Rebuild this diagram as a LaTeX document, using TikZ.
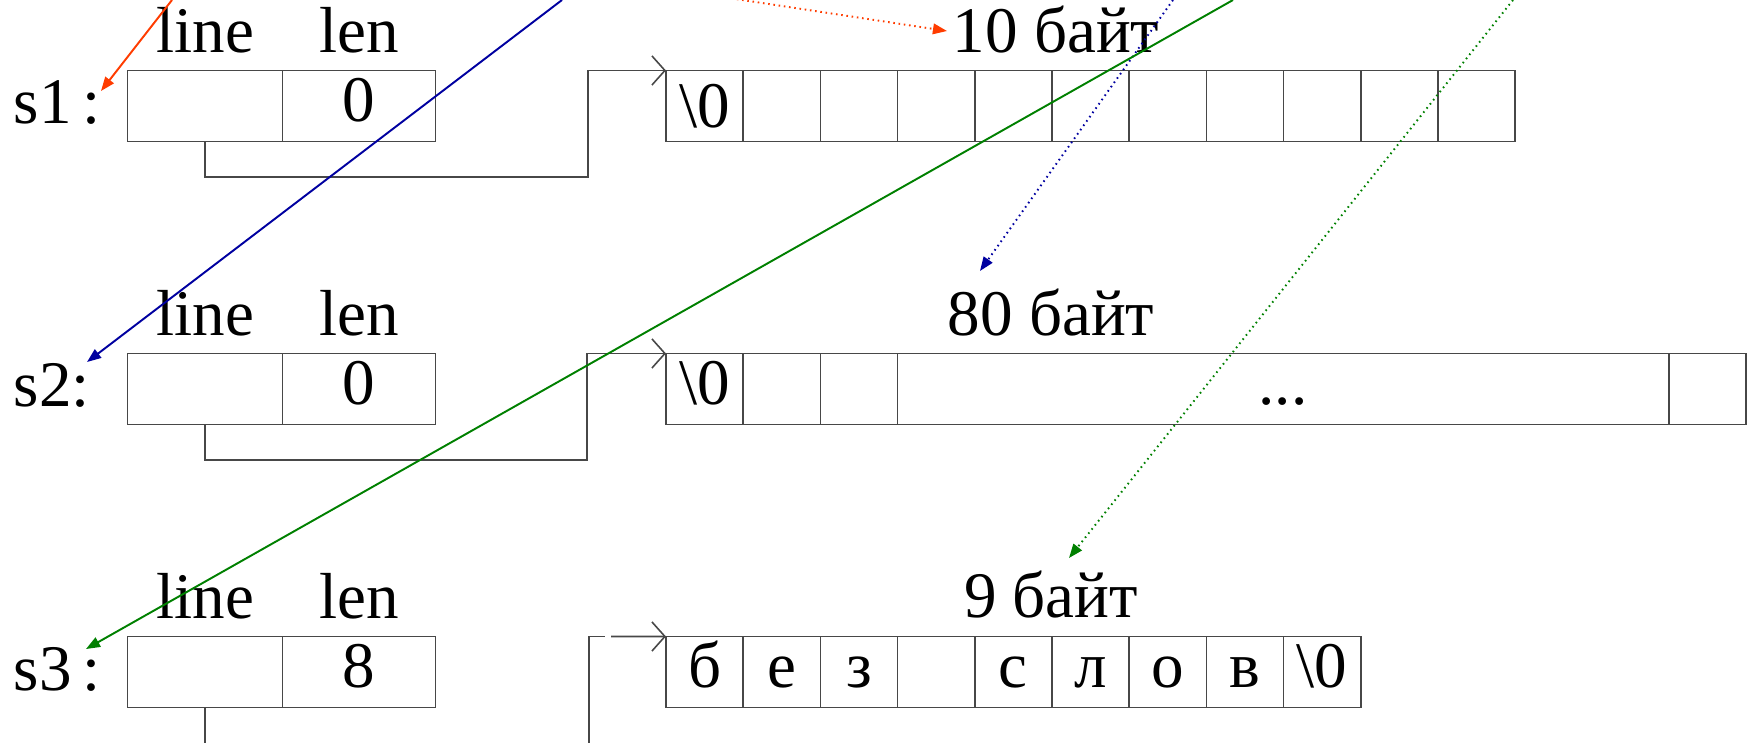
\documentclass[tikz,border=0pt]{standalone}
\usepackage{fontspec}
\setmainfont{Liberation Serif}
\usetikzlibrary{arrows.meta}
\definecolor{redA}{RGB}{255,60,0}
\definecolor{blueA}{RGB}{0,0,160}
\definecolor{greenA}{RGB}{0,128,0}
\colorlet{frame}{black!72}
\tikzset{
  txt/.style={font=\fontsize{18.5}{22}\selectfont, inner sep=0pt},
  cell/.style={draw=frame, line width=0.45pt, minimum height=0.71cm, inner sep=0pt, outer sep=0pt,
    text height=0.39cm, text depth=0.08cm, font=\fontsize{18.5}{22}\selectfont},
  acell/.style={cell, minimum width=0.772cm},
  link/.style={draw=frame, line width=0.45pt},
  linkarrow/.style={link, -{Straight Barb[length=3.7pt,width=8.3pt]}},
  ptr/.style={line width=0.55pt, -{Triangle[length=4pt,width=3pt]}},
  dotptr/.style={ptr, dash pattern=on 0.45pt off 1.05pt},
}
\begin{document}
\begin{tikzpicture}[x=0.01cm, y=-0.01cm]
\useasboundingbox (0,0) rectangle (1754,742);
\clip (0,0) rectangle (1754,742);

% ---------- row 1 ----------
\node[txt, anchor=base] (l1a) at (205.5,52) {line};
\node[txt, anchor=base] (l1b) at (359,52) {len};
\node[txt, anchor=base west] (n1) at (13,123.5) {s1\,:};
\node[cell, minimum width=1.55cm] (s1line) at (205,106) {};
\node[cell, minimum width=1.53cm] (s1len) at (359,106) {0};
\node[txt, anchor=base] (b1) at (1056,52) {10 байт};
\foreach \i in {0,...,10} {
  \node[acell] (r1c\i) at ({704.6+77.2*\i},106) {};
}
\node[txt] at (r1c0) {\textbackslash0};

% ---------- row 2 ----------
\node[txt, anchor=base] (l2a) at (205.5,335) {line};
\node[txt, anchor=base] (l2b) at (359,335) {len};
\node[txt, anchor=base west] (n2) at (13,406.5) {s2:};
\node[cell, minimum width=1.55cm] (s2line) at (205,389) {};
\node[cell, minimum width=1.53cm] (s2len) at (359,389) {0};
\node[txt, anchor=base] (b2) at (1051,335) {80 байт};
\node[acell] (r2c0) at (704.6,389) {\textbackslash0};
\node[acell] (r2c1) at (781.8,389) {};
\node[acell] (r2c2) at (859.0,389) {};
\node[cell, minimum width=7.709cm] (r2c3) at (1283.05,389) {...};
\node[acell] (r2c4) at (1707.1,389) {};

% ---------- row 3 ----------
\node[txt, anchor=base] (l3a) at (205.5,618) {line};
\node[txt, anchor=base] (l3b) at (359,618) {len};
\node[txt, anchor=base west] (n3) at (13,690) {s3\,:};
\node[cell, minimum width=1.55cm] (s3line) at (205,672) {};
\node[cell, minimum width=1.53cm] (s3len) at (359,672) {8};
\node[txt, anchor=base] (b3) at (1051,617) {9 байт};
\foreach \ch [count=\i from 0] in {б,е,з,{},с,л,о,в,\textbackslash0} {
  \node[acell] (r3c\i) at ({704.6+77.2*\i},672) {\ch};
}

% ---------- black pointer links ----------
\coordinate (k1) at (588,177);
\draw[linkarrow] (s1line.south) |- (k1) |- (r1c0.north west);
\coordinate (k2) at (587,460);
\draw[linkarrow] (s2line.south) |- (k2) |- (r2c0.north west);
\coordinate (k3a) at (205,760);
\draw[link] (s3line.south) -- (k3a);
\coordinate (k3b) at (589,760);
\coordinate (k3c) at (605,636.5);
\coordinate (k3d) at (611,636.5);
\draw[link] (k3b) |- (k3c);
\draw[linkarrow] (k3d) -- (r3c0.north west);

% ---------- coloured arrows ----------
\coordinate (rs0) at (172,0);   \coordinate (rs1) at (101,91);
\coordinate (rd0) at (716,-4);  \coordinate (rd1) at (947,31);
\coordinate (bs0) at (562,0);   \coordinate (bs1) at (87,362);
\coordinate (bd0) at (1173,0);  \coordinate (bd1) at (980,271);
\coordinate (gs0) at (1233,0);  \coordinate (gs1) at (86,649);
\coordinate (gd0) at (1513,0);  \coordinate (gd1) at (1069,558);
\draw[ptr, redA] (rs0) -- (rs1);
\draw[dotptr, redA] (rd0) -- (rd1);
\draw[ptr, blueA] (bs0) -- (bs1);
\draw[dotptr, blueA] (bd0) -- (bd1);
\draw[ptr, greenA] (gs0) -- (gs1);
\draw[dotptr, greenA] (gd0) -- (gd1);
\end{tikzpicture}
\end{document}
